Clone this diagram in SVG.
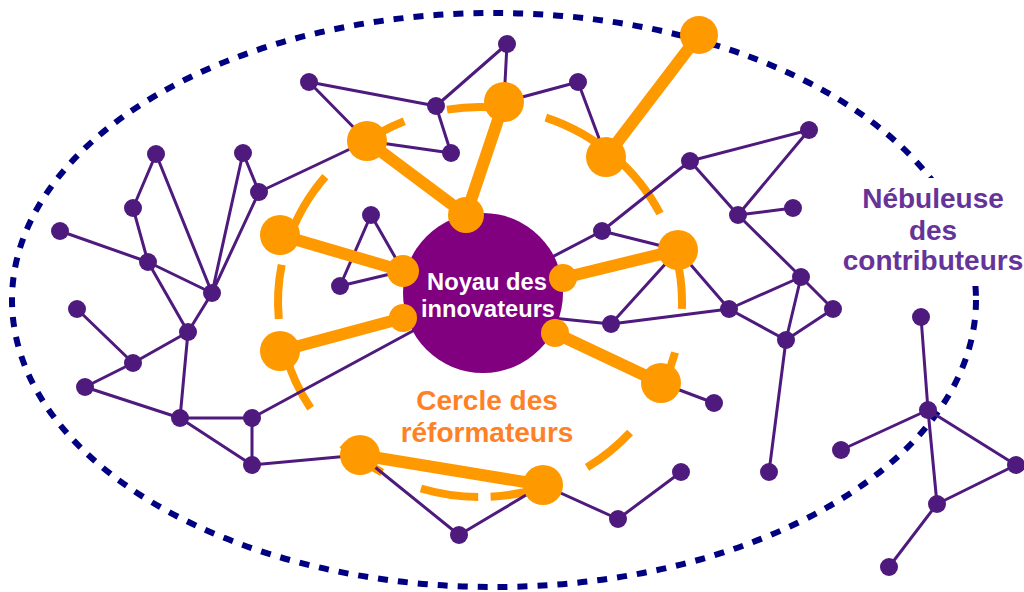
<svg xmlns="http://www.w3.org/2000/svg" width="1024" height="592" viewBox="0 0 1024 592">
<style>
.e{stroke:#4F1A7D;stroke-width:3;fill:none;stroke-linecap:round}
.t{stroke:#FF9900;stroke-width:12;fill:none}
.arc{stroke:#FF9900;stroke-width:8;fill:none}
.s{fill:#4F1A7D}
.o{fill:#FF9900}
.lbl{font-family:"Liberation Sans",Arial,sans-serif;font-weight:bold;text-anchor:middle}
</style>
<rect width="1024" height="592" fill="#fff"/>
<g id="nebuleuse-boundary">
<ellipse cx="494" cy="300" rx="482" ry="287" fill="none" stroke="#000080" stroke-width="6" stroke-dasharray="10 10"/>
<rect x="842" y="178" width="182" height="108" fill="#fff"/>
</g>
<g id="cercle-reformateurs">
<path class="arc" d="M447,109.6 A202,195 0 0 1 501.1,108.1"/>
<path class="arc" d="M545.8,117.6 A202,195 0 0 1 660,213.5"/>
<path class="arc" d="M287.9,241.7 A202,195 0 0 1 325.3,176.6"/>
<path class="arc" d="M358.4,146.3 A202,195 0 0 1 404.3,121.2"/>
<path class="arc" d="M278.8,319 A202,195 0 0 1 281.7,264.8"/>
<path class="arc" d="M310.6,408.2 A202,195 0 0 1 284.9,352.5"/>
<path class="arc" d="M382.1,472.5 A202,195 0 0 1 342.2,444.6"/>
<path class="arc" d="M478.2,497 A202,195 0 0 1 420.9,488.5"/>
<path class="arc" d="M545.8,486.4 A202,195 0 0 1 490.6,496.7"/>
<path class="arc" d="M630.1,432.5 A202,195 0 0 1 587,467.4"/>
<path class="arc" d="M676,254.8 A202,195 0 0 1 681.9,308.8"/>
<path class="arc" d="M675.1,352.5 A202,195 0 0 1 664.5,381.3"/>
</g>
<g id="connectors">
<path class="e" d="M156,154L133,208M156,154L212,293M133,208L148,262M60,231L148,262M148,262L212,293M148,262L188,332M212,293L188,332M243,153L212,293M243,153L259,192M259,192L212,293M259,192L367,141"/>
<path class="e" d="M77,309L133,363M133,363L188,332M133,363L85,387M85,387L180,418M188,332L180,418M180,418L252,418M180,418L252,465M252,418L252,465M252,418L483,293M252,465L360,455"/>
<path class="e" d="M309,82L367,141M309,82L436,106M436,106L507,44M507,44L504,102M436,106L451,153M451,153L367,141M504,102L578,82M578,82L606,157M371,215L340,286M371,215L403,271M340,286L403,271"/>
<path class="e" d="M483,293L602,231M602,231L690,161M690,161L809,130M690,161L738,215M809,130L738,215M738,215L793,208M738,215L801,277M602,231L678,250M678,250L611,324M678,250L729,309M611,324L729,309M729,309L801,277M729,309L786,340M801,277L786,340M801,277L833,309M833,309L786,340M786,340L769,472M483,311L611,324M661,383L714,403"/>
<path class="e" d="M360,455L459,535M459,535L543,485M543,485L618,519M618,519L681,472"/>
<path class="e" d="M921,317L928,410M928,410L841,450M928,410L1016,465M928,410L937,504M1016,465L937,504M937,504L889,567"/>
<path class="t" d="M367,141L466,215M504,102L466,215M699,35L606,157M280,235L403,271M280,351L403,318M563,278L678,250M555,333L661,383M360,455L543,485"/>
</g>
<g id="noyau">
<circle cx="483" cy="293" r="80" fill="#800080"/>
<circle class="o" cx="466" cy="215" r="18"/>
<circle class="o" cx="403" cy="271" r="16"/>
<circle class="o" cx="403" cy="318" r="14"/>
<circle class="o" cx="563" cy="278" r="14"/>
<circle class="o" cx="555" cy="333" r="14"/>
<text class="lbl" x="487" y="290" font-size="23" fill="#fff" textLength="120" lengthAdjust="spacingAndGlyphs">Noyau des</text>
<text class="lbl" x="488" y="317" font-size="23" fill="#fff" textLength="134" lengthAdjust="spacingAndGlyphs">innovateurs</text>
</g>
<g id="reformateurs">
<circle class="o" cx="367" cy="141" r="20"/>
<circle class="o" cx="504" cy="102" r="20"/>
<circle class="o" cx="699" cy="35" r="19"/>
<circle class="o" cx="606" cy="157" r="20"/>
<circle class="o" cx="280" cy="235" r="20"/>
<circle class="o" cx="678" cy="250" r="20"/>
<circle class="o" cx="280" cy="351" r="20"/>
<circle class="o" cx="661" cy="383" r="20"/>
<circle class="o" cx="360" cy="455" r="20"/>
<circle class="o" cx="543" cy="485" r="20"/>
</g>
<g id="contributeurs">
<circle class="s" cx="156" cy="154" r="9"/>
<circle class="s" cx="243" cy="153" r="9"/>
<circle class="s" cx="133" cy="208" r="9"/>
<circle class="s" cx="60" cy="231" r="9"/>
<circle class="s" cx="259" cy="192" r="9"/>
<circle class="s" cx="148" cy="262" r="9"/>
<circle class="s" cx="212" cy="293" r="9"/>
<circle class="s" cx="188" cy="332" r="9"/>
<circle class="s" cx="77" cy="309" r="9"/>
<circle class="s" cx="133" cy="363" r="9"/>
<circle class="s" cx="85" cy="387" r="9"/>
<circle class="s" cx="180" cy="418" r="9"/>
<circle class="s" cx="252" cy="418" r="9"/>
<circle class="s" cx="252" cy="465" r="9"/>
<circle class="s" cx="309" cy="82" r="9"/>
<circle class="s" cx="436" cy="106" r="9"/>
<circle class="s" cx="507" cy="44" r="9"/>
<circle class="s" cx="451" cy="153" r="9"/>
<circle class="s" cx="578" cy="82" r="9"/>
<circle class="s" cx="371" cy="215" r="9"/>
<circle class="s" cx="340" cy="286" r="9"/>
<circle class="s" cx="602" cy="231" r="9"/>
<circle class="s" cx="690" cy="161" r="9"/>
<circle class="s" cx="809" cy="130" r="9"/>
<circle class="s" cx="738" cy="215" r="9"/>
<circle class="s" cx="793" cy="208" r="9"/>
<circle class="s" cx="801" cy="277" r="9"/>
<circle class="s" cx="729" cy="309" r="9"/>
<circle class="s" cx="833" cy="309" r="9"/>
<circle class="s" cx="786" cy="340" r="9"/>
<circle class="s" cx="611" cy="324" r="9"/>
<circle class="s" cx="714" cy="403" r="9"/>
<circle class="s" cx="769" cy="472" r="9"/>
<circle class="s" cx="459" cy="535" r="9"/>
<circle class="s" cx="618" cy="519" r="9"/>
<circle class="s" cx="681" cy="472" r="9"/>
<circle class="s" cx="921" cy="317" r="9"/>
<circle class="s" cx="928" cy="410" r="9"/>
<circle class="s" cx="841" cy="450" r="9"/>
<circle class="s" cx="1016" cy="465" r="9"/>
<circle class="s" cx="937" cy="504" r="9"/>
<circle class="s" cx="889" cy="567" r="9"/>
</g>
<g id="labels">
<text class="lbl" x="487" y="410" font-size="28" fill="#FF8126">Cercle des</text>
<text class="lbl" x="487" y="442" font-size="28" fill="#FF8126">réformateurs</text>
<text class="lbl" x="933" y="208" font-size="28" fill="#663399">Nébuleuse</text>
<text class="lbl" x="933" y="240" font-size="28" fill="#663399">des</text>
<text class="lbl" x="933" y="270" font-size="28" fill="#663399">contributeurs</text>
</g>
</svg>
